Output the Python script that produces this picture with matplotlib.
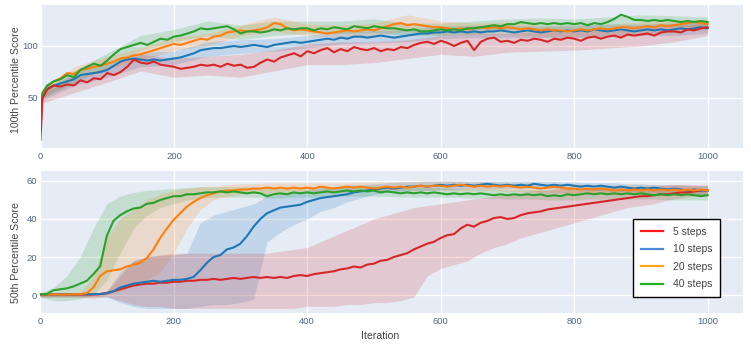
import numpy as np
import matplotlib
matplotlib.use("Agg")
import matplotlib.pyplot as plt
from matplotlib.lines import Line2D

plt.rcParams['font.family'] = ['Liberation Sans', 'DejaVu Sans']

# ---------------- data ----------------
labels = ["5 steps", "10 steps", "20 steps", "40 steps"]

# top panel (100th percentile) iterations
x_top = [0, 3] + list(range(10, 1001, 10))
top_red = [10, 50, 58, 62, 61, 63, 62, 67, 65, 69, 68, 74, 72, 75, 80, 87, 84, 83, 85, 82, 81,
           80, 78, 79, 80, 82, 81, 82, 80, 83, 81, 82, 79, 80, 84, 87, 85, 89, 91, 93, 90,
           95, 93, 96, 98, 94, 97, 95, 99, 97, 96, 98, 95, 97, 96, 99, 98, 101, 103, 104, 102,
           105, 103, 100, 103, 105, 96, 104, 107, 108, 104, 105, 103, 106, 105, 107, 106, 104, 107, 106, 108,
           107, 105, 108, 109, 107, 109, 110, 108, 111, 110, 111, 112, 110, 113, 114, 114, 113, 116, 115, 117, 118]
top_blue = [35, 53, 59, 62, 64, 66, 68, 72, 73, 74, 75, 77, 81, 85, 87, 88, 87, 86, 87, 86, 87,
            88, 89, 91, 93, 96, 97, 98, 98, 99, 100, 99, 100, 101, 100, 99, 101, 102, 103, 104, 103,
            104, 105, 106, 107, 106, 108, 107, 109, 109, 108, 109, 110, 109, 108, 109, 110, 111, 112, 112, 113,
            113, 114, 113, 114, 113, 114, 113, 114, 114, 115, 114, 113, 114, 115, 114, 113, 114, 115, 114, 115,
            114, 115, 114, 116, 115, 114, 115, 116, 115, 114, 115, 116, 115, 116, 115, 116, 117, 116, 117, 118, 117]
top_orange = [25, 54, 61, 66, 69, 74, 73, 77, 78, 80, 81, 83, 85, 88, 89, 91, 92, 94, 96, 98, 100,
              102, 101, 103, 105, 107, 106, 109, 110, 113, 114, 115, 114, 115, 116, 118, 122, 121, 117, 115, 116,
              115, 114, 113, 112, 113, 114, 115, 114, 115, 116, 115, 117, 119, 121, 122, 120, 121, 120, 119, 118,
              118, 117, 116, 117, 116, 117, 118, 117, 118, 117, 118, 117, 116, 117, 116, 115, 116, 115, 115, 114,
              115, 116, 115, 116, 117, 116, 117, 118, 118, 117, 118, 119, 118, 120, 119, 120, 121, 122, 123, 122, 121]
top_green = [30, 55, 62, 66, 68, 72, 70, 77, 80, 83, 81, 86, 92, 97, 99, 101, 103, 101, 104, 107, 106,
             109, 110, 112, 114, 117, 116, 117, 118, 119, 116, 112, 114, 114, 113, 114, 116, 115, 117, 116, 117,
             117, 115, 117, 116, 118, 117, 116, 119, 118, 117, 119, 118, 117, 117, 116, 115, 116, 114, 114, 115,
             116, 115, 116, 115, 117, 117, 118, 119, 120, 119, 121, 121, 123, 122, 121, 122, 121, 122, 121, 122,
             121, 122, 120, 122, 121, 123, 126, 130, 128, 125, 125, 124, 125, 124, 125, 124, 123, 124, 123, 124, 123]

x_top_band = [0, 3] + list(range(50, 1001, 50))
top_red_lo = [10, 45, 55, 65, 76, 70, 72, 70, 76, 82, 82, 84, 88, 92, 90, 94, 95, 96, 98, 100, 104, 110]
top_red_hi = [10, 55, 68, 80, 92, 88, 90, 92, 96, 102, 104, 104, 106, 110, 112, 112, 114, 114, 116, 118, 120, 122]
top_blue_lo = [35, 48, 62, 70, 80, 82, 90, 93, 95, 98, 102, 103, 104, 107, 108, 108, 108, 108, 109, 110, 110, 112]
top_blue_hi = [35, 56, 74, 84, 94, 95, 104, 106, 107, 110, 114, 115, 116, 119, 120, 120, 119, 120, 121, 121, 122, 123]
top_orange_lo = [25, 50, 68, 78, 86, 96, 100, 110, 114, 110, 108, 110, 114, 110, 111, 111, 109, 109, 110, 111, 113, 116]
top_orange_hi = [25, 58, 80, 90, 98, 108, 112, 120, 128, 121, 120, 122, 130, 124, 122, 123, 120, 120, 121, 123, 124, 126]
top_green_lo = [30, 50, 64, 80, 96, 104, 110, 106, 110, 112, 112, 113, 110, 110, 112, 116, 117, 116, 117, 119, 119, 118]
top_green_hi = [30, 58, 76, 93, 110, 116, 124, 120, 124, 124, 124, 126, 122, 122, 124, 126, 127, 126, 128, 130, 129, 128]

# bottom panel (50th percentile) iterations
x_bot = list(range(0, 1001, 10))
bot_red = [0.3, 0.3, 0.3, 0.3, 0.3, 0.3, 0.3, 0.3, 0.3, 0.5, 1, 2, 3, 4, 5, 5.5, 6, 6, 6.5, 6.5,
           7, 7, 7.5, 7.5, 8, 8, 8.5, 8, 8.5, 9, 8.5, 9, 9.5, 9, 9.5, 9, 9.5, 9, 10, 10.5,
           10, 11, 11.5, 12, 12.5, 13.5, 14, 15, 14.5, 16, 16.5, 18, 18.5, 20, 21, 22, 24, 25.5, 27, 28,
           30, 31.5, 32, 35, 37, 36, 38, 39, 40.5, 41, 40, 40.5, 42, 43, 43.5, 44, 45, 45.5, 46, 46.5,
           47, 47.5, 48, 48.5, 49, 49.5, 50, 50.5, 51, 51.5, 52, 52, 52.5, 53, 53, 53.5, 54, 54, 54.5, 55, 55]
bot_blue = [0.2, 0.3, 0.3, 0.4, 0.3, 0.4, 0.5, 0.4, 0.5, 0.5, 1, 2, 4, 5, 6, 6.5, 7, 7.5, 7, 7.5,
            8, 8, 8.5, 9.5, 13, 17, 20, 21, 24, 25, 27, 31, 36, 40, 43, 44.5, 46, 46.5, 47, 47.5,
            49, 50, 51, 51.5, 52, 52.5, 53, 54, 54.5, 55, 55.5, 56, 56.5, 56, 56.5, 57, 57, 57.5, 57, 57.5,
            58, 57.5, 58, 57.5, 58, 57.5, 58, 58.5, 58, 57.5, 58, 57.5, 58, 57.5, 58.5, 58, 57.5, 58, 57.5, 58,
            57.5, 57, 57.5, 57, 57.5, 57, 56.5, 57, 56.5, 56, 56.5, 56, 56.5, 56, 55.5, 56, 55.5, 55, 55.5, 55, 55]
bot_orange = [0.3, 0.3, 0.3, 0.3, 0.3, 0.4, 0.5, 1, 4, 10, 12.5, 13, 13.5, 15, 16, 17, 19.5, 24, 30, 35,
              39.5, 43, 46.5, 49, 51, 52.5, 53.5, 54.5, 55, 55, 55.5, 55.5, 56, 56, 56.5, 56, 56.5, 56, 56.5, 56,
              56.5, 56, 57, 56.5, 56, 56.5, 57, 56.5, 57, 56.5, 56, 56.5, 57, 56.5, 57, 56.5, 57, 57.5, 57, 57.5,
              57.5, 57, 57.5, 58, 57.5, 57, 57.5, 57, 57.5, 57, 57.5, 57, 56.5, 57, 56.5, 56, 56.5, 57, 56.5, 56,
              56, 55.5, 56, 55.5, 56, 55.5, 55, 55.5, 55, 55.5, 55, 55.5, 55, 55.5, 55, 55.5, 55, 55.5, 55, 55.5, 55]
bot_green = [0.5, 0.5, 2.5, 3, 3.5, 4.5, 6, 7.5, 11, 15, 31, 39, 42, 44, 45.5, 46, 48, 48.5, 50, 51,
             52, 52, 53, 53, 53.5, 54, 54, 54.5, 54, 54.5, 54, 53.5, 54, 53.5, 52, 53, 53.5, 53, 54, 53.5,
             54, 53.5, 54, 54.5, 54, 54.5, 55, 54.5, 55, 54.5, 55, 54, 54.5, 54, 53.5, 54, 53.5, 54, 53.5, 54,
             53.5, 53, 53.5, 53, 53.5, 53, 53.5, 53, 52.5, 53, 52.5, 53, 52.5, 53, 52.5, 53, 52, 52.5, 52, 53,
             52.5, 53, 53.5, 53, 53.5, 53, 53.5, 53, 53.5, 53, 53.5, 53, 52.5, 53, 52.5, 53, 52.5, 53, 52.5, 52, 52.5]

x_bot_band = list(range(0, 1001, 20))
bot_red_lo = [-1, -1, -1, -1, -1, -1, -3, -5, -6, -6, -7, -7, -7, -7, -7, -7, -7, -7, -7, -7,
              -6, -6, -6, -5, -5, -4, -4, -3, -1, 10, 14, 16, 18, 22, 25, 27, 30, 32, 34, 36,
              38, 40, 42, 44, 46, 47, 48, 50, 51, 52, 53]
bot_red_hi = [1, 1, 1, 1, 1, 2, 10, 18, 20, 21, 22, 22, 22, 22, 22, 22, 22, 22, 23, 24,
              25, 28, 31, 34, 37, 40, 42, 44, 46, 47, 48, 49, 50, 51, 52, 53, 54, 55, 55, 56,
              56, 56, 57, 57, 57, 57, 57, 58, 58, 58, 58]
bot_blue_lo = [-1, -1, -1, -1, -1, -1, -4, -6, -7, -7, -7, -7, -6, -5, -5, -4, -2, 28, 33, 37,
               40, 44, 46, 49, 51, 53, 54, 54.5, 55, 55, 55.5, 55.5, 56, 56, 56, 56, 56, 56, 56, 55.5,
               55.5, 55, 55, 54.5, 54.5, 54, 54, 53.5, 53, 53, 52.5]
bot_blue_hi = [1, 1, 1, 1, 1, 2, 12, 18, 20, 21, 21, 22, 38, 42, 44, 46, 48, 52, 53, 54,
               55, 56, 57, 58, 58, 58.5, 59, 59.5, 59.5, 60, 60, 60, 60, 60, 60, 60, 60, 60, 60, 59.5,
               59.5, 59, 59, 59, 58.5, 58.5, 58, 58, 58, 57.5, 57.5]
bot_orange_lo = [-1, -1, -1, -1, -2, 0, 2, 5, 8, 12, 22, 35, 45, 50, 52, 53, 53.5, 53.5, 54, 54,
                 54, 54, 54, 54, 54.5, 54.5, 54.5, 55, 55, 55, 55, 55, 55, 55, 55, 54.5, 54.5, 54.5, 54, 54,
                 53.5, 53.5, 53.5, 53, 53, 53, 53, 53, 53, 53, 52.5]
bot_orange_hi = [1, 1, 1, 1, 10, 30, 40, 45, 50, 53, 55, 56, 57, 57, 58, 58.5, 58.5, 59, 59, 59,
                 59, 59, 59, 59, 59.5, 59.5, 59.5, 59.5, 60, 60, 60, 60, 59.5, 59.5, 59.5, 59, 59, 59, 58.5, 58.5,
                 58.5, 58, 58, 58, 58, 58, 58, 58, 58, 57.5, 57.5]
bot_green_lo = [-1, -3, -3, -2, 0, 8, 22, 35, 42, 46, 48, 50, 51, 51.5, 51.5, 51.5, 51.5, 51, 51, 51.5,
                51.5, 51.5, 52, 52, 52, 52, 52, 51.5, 51.5, 51.5, 51.5, 51.5, 51, 51, 51, 50.5, 50.5, 50.5, 50, 50,
                50, 50.5, 50.5, 50.5, 50.5, 50.5, 50.5, 50, 50, 50, 50]
bot_green_hi = [1, 4, 10, 20, 35, 48, 52, 54, 55, 55.5, 56, 56.5, 57, 57, 57, 57, 57, 56.5, 56.5, 56.5,
                57, 57, 57, 57.5, 57.5, 57.5, 57, 57, 56.5, 56.5, 56.5, 56, 56, 56, 56, 55.5, 55.5, 55.5, 55.5, 55.5,
                55.5, 56, 56, 56, 56, 56, 56, 55.5, 55.5, 55.5, 55.5]

# ---------------- style ----------------
line_colors = ["#d62728", "#1f77b4", "#ff7f0e", "#2ca02c"]
legend_colors = ["#ff1a1a", "#4a8ad4", "#ffa61a", "#1fb51f"]
bg = "#E5ECF6"
tick_color = "#506784"
title_color = "#444444"

fig = plt.figure(figsize=(7.51, 3.62), dpi=100)
W, H = 751, 362
ax1 = fig.add_axes([40.5 / W, 1 - 147.7 / H, (743 - 40.5) / W, (147.7 - 5) / H])
ax2 = fig.add_axes([40 / W, 1 - 313.3 / H, (743 - 40) / W, (313.3 - 170.7) / H])

top_means = [top_red, top_blue, top_orange, top_green]
top_los = [top_red_lo, top_blue_lo, top_orange_lo, top_green_lo]
top_his = [top_red_hi, top_blue_hi, top_orange_hi, top_green_hi]
bot_means = [bot_red, bot_blue, bot_orange, bot_green]
bot_los = [bot_red_lo, bot_blue_lo, bot_orange_lo, bot_green_lo]
bot_his = [bot_red_hi, bot_blue_hi, bot_orange_hi, bot_green_hi]

for i in [3, 2, 1, 0]:
    ax1.fill_between(x_top_band, top_los[i], top_his[i], color=line_colors[i], alpha=0.18, lw=0)
    ax2.fill_between(x_bot_band, bot_los[i], bot_his[i], color=line_colors[i], alpha=0.18, lw=0)
for i in [1, 2, 3, 0]:
    ax1.plot(x_top, top_means[i], color=line_colors[i], lw=1.5, zorder=3)
for i in [0, 1, 2, 3]:
    ax2.plot(x_bot, bot_means[i], color=line_colors[i], lw=1.5, zorder=3)

for ax in (ax1, ax2):
    ax.set_facecolor(bg)
    for s in ax.spines.values():
        s.set_visible(False)
    ax.grid(True, color="white", lw=1.0)
    ax.set_axisbelow(True)
    ax.tick_params(length=0, labelsize=6.8, colors=tick_color, pad=2)
    ax.set_xlim(0, 1053)
    ax.set_xticks([0, 200, 400, 600, 800, 1000])

ax1.tick_params(axis="x", pad=3)
ax2.tick_params(axis="x", pad=3)
ax1.set_ylim(2.2, 139.4)
ax1.set_yticks([50, 100])
ax2.set_ylim(-9.6, 65.4)
ax2.set_yticks([0, 20, 40, 60])

fig.text(16 / W, 1 - 80 / H, "100th Percentile Score", rotation=90, ha="center", va="center",
         fontsize=7.6, color=title_color)
fig.text(16 / W, 1 - 253 / H, "50th Percentile Score", rotation=90, ha="center", va="center",
         fontsize=7.6, color=title_color)
fig.text(380 / W, 1 - 336 / H, "Iteration", ha="center", va="center", fontsize=7.6, color=title_color)

handles = [Line2D([0], [0], color=c, lw=1.6) for c in legend_colors]
leg = ax2.legend(handles, labels, loc="upper left",
                 bbox_to_anchor=(633 / W, 1 - 219 / H), bbox_transform=fig.transFigure,
                 frameon=True, fancybox=False, fontsize=7.5, handlelength=2.1,
                 borderpad=0.75, labelspacing=0.72, handletextpad=1.0, borderaxespad=0)
leg.get_frame().set_edgecolor("black")
leg.get_frame().set_linewidth(1.0)
leg.get_frame().set_alpha(1.0)
for t in leg.get_texts():
    t.set_color(title_color)

fig.savefig("out.png", dpi=100, facecolor="white")
